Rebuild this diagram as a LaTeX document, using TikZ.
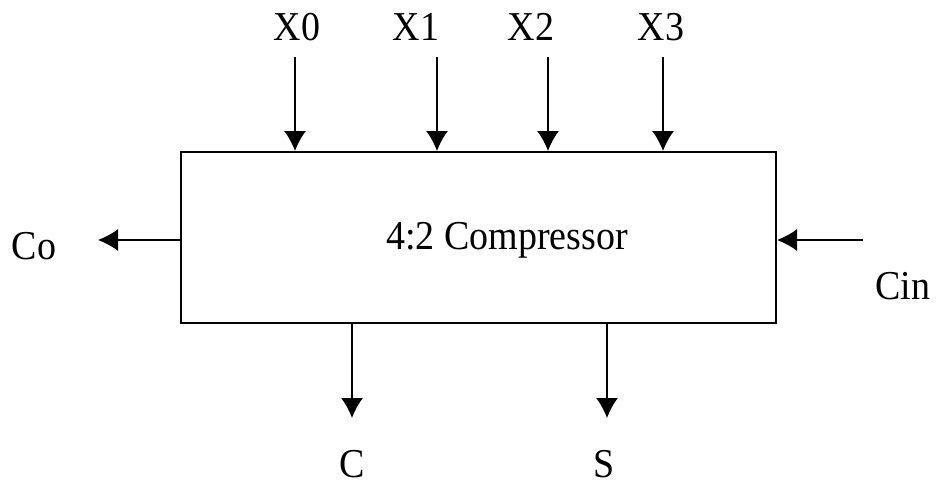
\documentclass[tikz,border=0pt]{standalone}
\usepackage{fontspec}
\setmainfont{Liberation Serif}
\usetikzlibrary{arrows.meta}
\begin{document}
\begin{tikzpicture}[x=1pt,y=-1pt,
  myarrow/.style={-{Latex[length=20pt,width=22pt]},line width=1.6pt},
  lbl/.style={font=\fontsize{38}{40}\selectfont,inner sep=0pt,yscale=1.08}]
\useasboundingbox (0,0) rectangle (938,485);
\node[draw,line width=2pt,minimum width=595pt,minimum height=171pt,inner sep=0pt] (comp) at (478.5,237.5) {};
\node[lbl] (name) at (507,240) {4:2 Compressor};
% inputs on top
\foreach \n/\x/\lx in {0/295/297,1/437/416,2/548/531,3/663/661}{
  \node[lbl] (x\n) at (\lx,27) {X\n};
  \coordinate (in\n) at (\x,57);
  \draw[myarrow] (in\n) -- (in\n |- comp.north);
}
% carry out / carry in
\node[lbl] (co) at (34,246) {Co};
\coordinate (coend) at (98,240);
\draw[myarrow] (coend -| comp.west) -- (coend);
\node[lbl] (cin) at (903,286) {Cin};
\coordinate (cinstart) at (863,240);
\draw[myarrow] (cinstart) -- (cinstart -| comp.east);
% outputs
\foreach \n/\x/\lx in {C/352/352,S/607/604}{
  \node[lbl] (out\n) at (\lx,464) {\n};
  \coordinate (end\n) at (\x,418);
  \draw[myarrow] (end\n |- comp.south) -- (end\n);
}
\end{tikzpicture}
\end{document}
